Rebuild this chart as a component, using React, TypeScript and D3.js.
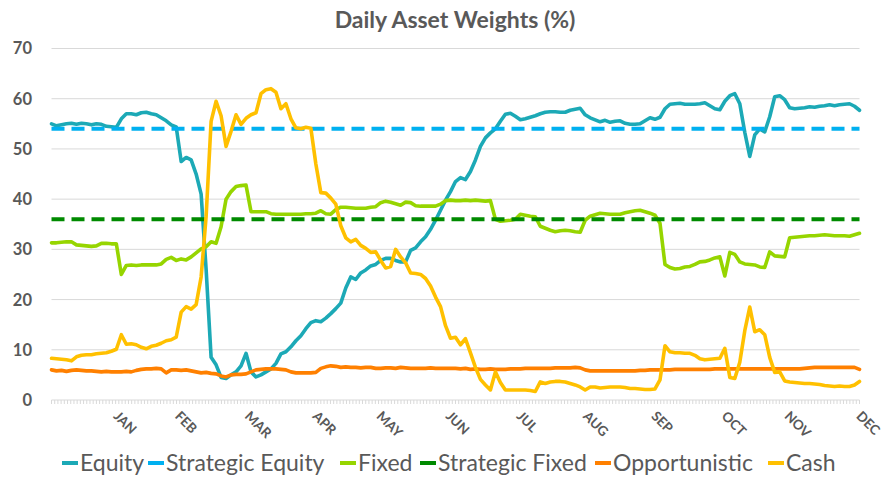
import React from 'react';
import * as d3 from 'd3';

const TITLE = 'Daily Asset Weights (%)';
const Y_TICKS = [0, 10, 20, 30, 40, 50, 60, 70];
const MONTHS = ['JAN', 'FEB', 'MAR', 'APR', 'MAY', 'JUN', 'JUL', 'AUG', 'SEP', 'OCT', 'NOV', 'DEC'];
const MONTH_POS = [12.5, 24.8, 38.8, 52.4, 65.2, 79.1, 93.3, 106.6, 120.3, 134.4, 147.0, 161.4];
const TRADING_DAYS = 253;

const EQUITY = [
  55.0, 54.6, 54.8, 55.0, 55.1, 54.9, 55.1, 55.0, 54.8, 55.0,
  54.9, 54.5, 54.4, 54.3, 56.0, 57.0, 57.0, 56.8, 57.2, 57.3,
  57.0, 56.8, 56.2, 55.6, 54.8, 54.4, 47.5, 48.3, 47.8, 45.0,
  41.0, 26.0, 8.5, 7.0, 4.5, 4.3, 5.0, 5.6, 6.8, 9.3,
  5.6, 4.6, 5.0, 5.6, 6.2, 7.3, 9.2, 9.6, 10.6, 11.8,
  12.8, 14.2, 15.4, 15.8, 15.6, 16.3, 17.2, 18.2, 19.3, 22.3,
  24.5, 24.0, 25.3, 25.9, 26.7, 27.0, 27.8, 28.2, 28.2, 27.8,
  27.5, 27.5, 29.8, 30.3, 31.5, 32.5, 34.0, 35.8, 37.8, 39.8,
  41.5, 43.5, 44.3, 43.9, 45.5, 47.8, 50.5, 52.2, 53.2, 54.0,
  55.5, 56.9, 57.1, 56.5, 55.8, 56.0, 56.3, 56.6, 57.0, 57.3,
  57.4, 57.4, 57.3, 57.3, 57.7, 57.9, 58.1, 56.8, 56.2, 55.8,
  55.4, 55.7, 55.3, 55.5, 55.6, 55.1, 54.9, 54.9, 55.0, 55.6,
  56.2, 55.9, 56.3, 58.0, 58.9, 59.0, 59.1, 58.9, 58.9, 58.9,
  59.0, 59.2, 58.6, 58.0, 57.8, 59.5, 60.6, 61.0, 59.0, 53.3,
  48.5, 52.8, 54.0, 53.4, 56.4, 60.4, 60.6, 59.8, 58.2, 58.0,
  58.1, 58.2, 58.4, 58.3, 58.5, 58.6, 58.8, 58.6, 58.8, 58.9,
  59.0, 58.5, 57.7,
];

const FIXED = [
  31.3, 31.3, 31.4, 31.5, 31.5, 30.9, 30.8, 30.7, 30.6, 30.7,
  31.2, 31.2, 31.1, 31.1, 25.0, 26.8, 26.9, 26.8, 26.9, 26.9,
  26.9, 26.9, 27.1, 28.0, 28.4, 27.8, 28.1, 27.9, 28.5, 29.3,
  30.1, 30.5, 31.5, 31.2, 34.5, 40.0, 41.5, 42.5, 42.7, 42.8,
  37.5, 37.5, 37.5, 37.5, 37.1, 37.0, 37.0, 37.0, 37.0, 37.0,
  37.0, 37.1, 37.1, 37.2, 37.7, 37.1, 37.0, 37.9, 38.4, 38.4,
  38.3, 38.2, 38.2, 38.2, 38.4, 38.5, 39.3, 39.6, 39.4, 39.1,
  38.8, 39.4, 39.3, 38.7, 38.6, 38.6, 38.6, 38.6, 39.0, 39.7,
  39.8, 39.7, 39.7, 39.8, 39.7, 39.8, 39.7, 39.6, 39.7, 36.0,
  35.6, 35.7, 35.8, 36.0, 37.0, 36.8, 36.6, 36.5, 34.6, 34.2,
  33.8, 33.5, 33.7, 33.8, 33.7, 33.5, 33.4, 35.8, 36.6, 36.9,
  37.2, 37.1, 37.0, 37.0, 37.0, 37.3, 37.5, 37.7, 37.8, 37.5,
  37.2, 36.8, 35.2, 27.0, 26.4, 26.1, 26.2, 26.5, 26.6, 27.0,
  27.5, 27.6, 27.9, 28.3, 28.5, 24.7, 29.4, 29.0, 27.5, 27.1,
  27.0, 26.9, 26.5, 26.4, 29.5, 28.7, 28.6, 28.5, 32.3, 32.4,
  32.5, 32.6, 32.7, 32.7, 32.8, 32.9, 32.8, 32.7, 32.7, 32.7,
  32.6, 32.9, 33.2,
];

const OPPORTUNISTIC = [
  6.0, 5.8, 5.9, 5.7, 5.9, 6.0, 5.9, 5.8, 5.8, 5.7,
  5.6, 5.7, 5.6, 5.6, 5.6, 5.7, 5.6, 5.9, 6.1, 6.2,
  6.2, 6.3, 6.2, 5.4, 6.0, 6.0, 5.9, 6.0, 5.8, 5.6,
  5.4, 5.5, 5.3, 5.2, 4.8, 4.6, 5.0, 5.1, 5.1, 5.2,
  5.6, 6.0, 6.1, 6.2, 6.2, 6.2, 6.1, 6.0, 5.6, 5.4,
  5.4, 5.4, 5.4, 5.5, 6.3, 6.6, 6.8, 6.7, 6.5, 6.6,
  6.5, 6.5, 6.4, 6.5, 6.5, 6.3, 6.3, 6.4, 6.4, 6.3,
  6.5, 6.4, 6.3, 6.3, 6.3, 6.3, 6.4, 6.3, 6.3, 6.3,
  6.3, 6.3, 6.2, 6.3, 6.1, 6.2, 6.1, 6.1, 6.2, 6.1,
  6.1, 6.1, 6.2, 6.2, 6.2, 6.3, 6.3, 6.3, 6.3, 6.3,
  6.3, 6.4, 6.4, 6.4, 6.4, 6.5, 6.4, 6.0, 5.8, 5.8,
  5.8, 5.8, 5.8, 5.8, 5.8, 5.8, 5.8, 5.8, 5.9, 5.9,
  6.0, 6.0, 6.0, 6.0, 6.0, 6.1, 6.1, 6.1, 6.1, 6.1,
  6.1, 6.1, 6.1, 6.2, 6.2, 6.2, 6.2, 6.2, 6.2, 6.2,
  6.2, 6.2, 6.2, 6.2, 6.2, 6.2, 6.2, 6.2, 6.2, 6.2,
  6.2, 6.3, 6.4, 6.5, 6.5, 6.5, 6.5, 6.5, 6.5, 6.5,
  6.5, 6.5, 6.1,
];

const CASH = [
  8.3, 8.2, 8.1, 8.0, 7.8, 8.6, 8.9, 9.0, 9.0, 9.2,
  9.3, 9.4, 9.7, 10.1, 13.0, 11.1, 11.2, 11.0, 10.5, 10.2,
  10.7, 10.9, 11.3, 11.8, 12.0, 12.5, 17.5, 18.6, 18.1, 19.0,
  24.5, 36.5, 55.5, 59.5, 56.6, 50.5, 53.5, 56.8, 54.9, 56.1,
  56.8, 57.2, 61.0, 61.8, 62.0, 61.3, 58.0, 59.0, 56.0, 54.2,
  54.0, 54.3, 54.1, 47.0, 41.3, 41.2, 40.2, 39.0, 34.7, 32.3,
  31.5, 32.0, 30.8, 30.2, 29.4, 29.5, 27.8, 26.3, 26.6, 30.0,
  28.5, 27.3, 25.3, 25.2, 25.0, 24.2, 22.7, 20.5, 18.6, 14.8,
  12.3, 12.5, 11.0, 12.2, 9.4, 6.5, 4.1, 3.0, 2.0, 5.6,
  3.5, 2.0, 2.0, 2.0, 2.0, 2.0, 1.9, 1.7, 3.6, 3.3,
  3.6, 3.7, 3.7, 3.6, 3.3, 3.0, 2.6, 2.0, 2.6, 2.6,
  2.4, 2.5, 2.6, 2.6, 2.6, 2.5, 2.3, 2.3, 2.2, 2.1,
  2.1, 2.2, 4.0, 10.8, 9.6, 9.4, 9.4, 9.3, 9.3, 8.9,
  8.2, 8.0, 8.1, 8.2, 8.3, 10.3, 4.5, 4.3, 7.5, 13.8,
  18.5, 13.6, 14.0, 13.0, 8.5, 5.5, 5.6, 3.8, 3.6, 3.5,
  3.4, 3.3, 3.3, 3.2, 3.1, 2.9, 2.8, 2.7, 2.8, 2.7,
  2.7, 3.0, 3.7,
];

const STRATEGIC_EQUITY = 54;
const STRATEGIC_FIXED = 36;

const SERIES_NAMES = ['Equity', 'Strategic Equity', 'Fixed', 'Strategic Fixed', 'Opportunistic', 'Cash'];
const COLORS = ['#1CA9B6', '#00B0F0', '#96D500', '#008A00', '#FF8000', '#FFC000'];

export default function App() {
  const W = 890;
  const H = 478;
  const left = 51.5;
  const right = 859.5;
  const n = EQUITY.length;
  const x = d3.scaleLinear().domain([0, n - 1]).range([left, right]);
  const y = d3.scaleLinear().domain([0, 70]).range([400, 48.5]);
  const dayScale = d3.scaleLinear().domain([0, TRADING_DAYS - 1]).range([left, right]);
  const line = d3.line<number>().x((_, i) => x(i)).y((d) => y(d));
  const flat = (v: number) => `M${left},${y(v)}H${right}`;

  const grey = '#595959';
  const font = 'Lato, "Open Sans", sans-serif';

  const series: { d: string; color: string; dash?: string; w: number }[] = [
    { d: line(EQUITY) as string, color: COLORS[0], w: 3.6 },
    { d: flat(STRATEGIC_EQUITY), color: COLORS[1], dash: '13 7', w: 4 },
    { d: line(FIXED) as string, color: COLORS[2], w: 3.6 },
    { d: flat(STRATEGIC_FIXED), color: COLORS[3], dash: '13 7', w: 4 },
    { d: line(OPPORTUNISTIC) as string, color: COLORS[4], w: 3.6 },
    { d: line(CASH) as string, color: COLORS[5], w: 3.6 },
  ];

  const legendX = [62, 148, 340, 420, 595, 768];

  return (
    <svg width={W} height={H} style={{ position: 'absolute', left: 0, top: 0, background: '#fff' }} fontFamily={font}>
      <rect width={W} height={H} fill="#fff" />
      <text x={455} y={28} textAnchor="middle" fontSize={23} fontWeight="bold" fill={grey}>{TITLE}</text>
      {Y_TICKS.map((t) => (
        <g key={t}>
          <line x1={left} x2={right} y1={y(t)} y2={y(t)} stroke="#D9D9D9" strokeWidth={1} />
          <text x={32} y={y(t)} dy="0.36em" textAnchor="end" fontSize={16.5} fontWeight="bold" fill={grey}>{t}</text>
        </g>
      ))}
      {d3.range(TRADING_DAYS).map((k) => (
        <line key={k} x1={dayScale(k)} x2={dayScale(k)} y1={400} y2={404} stroke="#D9D9D9" strokeWidth={1} />
      ))}
      {MONTHS.map((m, k) => (
        <text key={m} transform={`translate(${x(MONTH_POS[k]) - 1},${417}) rotate(45)`} fontSize={13.5} fontWeight="bold" fill={grey}>{m}</text>
      ))}
      {series.map((s, k) => (
        <path key={k} d={s.d} fill="none" stroke={s.color} strokeWidth={s.w} strokeDasharray={s.dash} strokeLinejoin="round" strokeLinecap={s.dash ? 'butt' : 'round'} />
      ))}
      {SERIES_NAMES.map((name, k) => (
        <g key={name}>
          <line x1={legendX[k]} x2={legendX[k] + 16} y1={463} y2={463} stroke={COLORS[k]} strokeWidth={4} />
          <text x={legendX[k] + 18} y={463} dy="0.35em" fontSize={23} fill={grey}>{name}</text>
        </g>
      ))}
    </svg>
  );
}
